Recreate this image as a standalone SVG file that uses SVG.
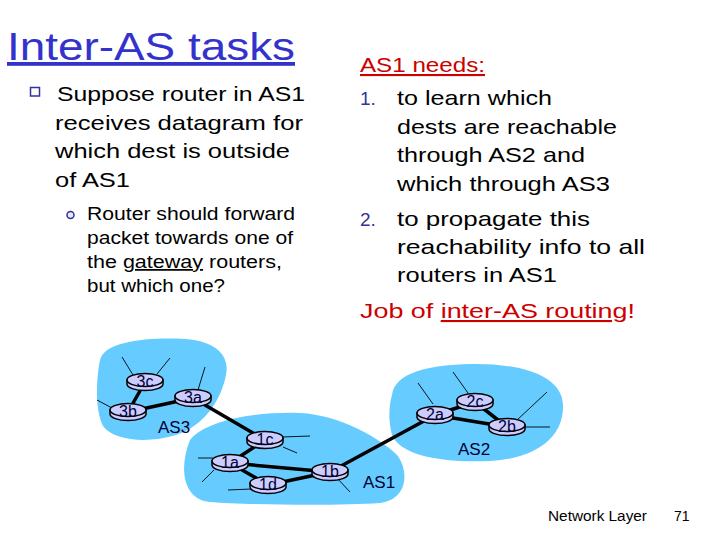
<svg xmlns="http://www.w3.org/2000/svg" xmlns:xlink="http://www.w3.org/1999/xlink" width="720" height="540" viewBox="0 0 720 540">
<style>
.t{font-family:"Liberation Sans",Arial,sans-serif;fill:#000}
.title{font-size:38px;fill:#3333cc;text-decoration:underline}
.b1{font-size:21px}
.b2{font-size:17.5px}
.red{fill:#cc0000}
.num{fill:#333399;font-size:19px}
.as{font-family:"Liberation Sans",Arial,sans-serif;font-size:17px;fill:#000033}
.lbl{font-family:"Liberation Sans",Arial,sans-serif;font-size:16px;fill:#000033;text-anchor:middle}
.blob{fill:#66ccff;stroke:none}
.link{stroke:#000;stroke-width:3.5;stroke-linecap:round;fill:none}
.stub{stroke:#000;stroke-width:0.9;fill:none}
.foot{font-family:"Liberation Sans",Arial,sans-serif;font-size:14px;fill:#000}
</style>
<defs>
<g id="rt">
<path d="M-18,-2 v4 a18,6.5 0 0 0 36,0 v-4 z" fill="#ccccff" stroke="#000" stroke-width="1.5"/>
<ellipse cx="0" cy="-2" rx="18" ry="6.5" fill="#ccccff" stroke="#000" stroke-width="1.5"/>
</g>
</defs>

<!-- text -->
<text class="t title" x="7" y="60" textLength="288" lengthAdjust="spacingAndGlyphs">Inter-AS tasks</text>
<rect x="30.5" y="87.5" width="9" height="8.5" fill="none" stroke="#333399" stroke-width="1.5"/>
<text class="t b1" x="57" y="101" textLength="248" lengthAdjust="spacingAndGlyphs">Suppose router in AS1</text>
<text class="t b1" x="55" y="130" textLength="248" lengthAdjust="spacingAndGlyphs">receives datagram for</text>
<text class="t b1" x="55" y="158" textLength="235" lengthAdjust="spacingAndGlyphs">which dest is outside</text>
<text class="t b1" x="55" y="187" textLength="75" lengthAdjust="spacingAndGlyphs">of AS1</text>
<circle cx="70.5" cy="215" r="3.5" fill="#e8e8ff" stroke="#333399" stroke-width="1.5"/>
<text class="t b2" x="87" y="220" textLength="208" lengthAdjust="spacingAndGlyphs">Router should forward</text>
<text class="t b2" x="87" y="244" textLength="206" lengthAdjust="spacingAndGlyphs">packet towards one of</text>
<text class="t b2" x="87" y="268" textLength="195" lengthAdjust="spacingAndGlyphs">the <tspan text-decoration="underline">gateway</tspan> routers,</text>
<text class="t b2" x="87" y="292" textLength="138" lengthAdjust="spacingAndGlyphs">but which one?</text>

<text class="t b1 red" x="360" y="72" textLength="125" lengthAdjust="spacingAndGlyphs" text-decoration="underline">AS1 needs:</text>
<text class="t num" x="360" y="105">1.</text>
<text class="t b1" x="397" y="105" textLength="155" lengthAdjust="spacingAndGlyphs">to learn which</text>
<text class="t b1" x="397" y="134" textLength="220" lengthAdjust="spacingAndGlyphs">dests are reachable</text>
<text class="t b1" x="397" y="162" textLength="188" lengthAdjust="spacingAndGlyphs">through AS2 and</text>
<text class="t b1" x="397" y="191" textLength="213" lengthAdjust="spacingAndGlyphs">which through AS3</text>
<text class="t num" x="360" y="226">2.</text>
<text class="t b1" x="397" y="226" textLength="193" lengthAdjust="spacingAndGlyphs">to propagate this</text>
<text class="t b1" x="397" y="254" textLength="248" lengthAdjust="spacingAndGlyphs">reachability info to all</text>
<text class="t b1" x="397" y="282" textLength="160" lengthAdjust="spacingAndGlyphs">routers in AS1</text>
<text class="t b1 red" x="360" y="318" textLength="275" lengthAdjust="spacingAndGlyphs">Job of <tspan text-decoration="underline">inter-AS routing</tspan>!</text>

<!-- AS clouds -->
<path class="blob" d="M100,360 C104,341 150,337 185,339 C215,341 230,355 226,375 C221,400 205,425 176,435 C150,443 115,442 103,426 C95,410 96,380 100,360 Z"/>
<path class="blob" d="M190,440 C205,420 260,411 300,413 C340,415 380,438 398,456 C410,474 406,500 380,503 C340,506 250,505 210,502 C184,500 178,470 190,440 Z"/>
<path class="blob" d="M392,395 C395,372 430,365 470,364 C520,363 562,375 563,405 C564,435 540,458 490,461 C440,463 400,455 392,435 C388,420 389,405 392,395 Z"/>
<text class="as" x="158" y="433">AS3</text>
<text class="as" x="363" y="488">AS1</text>
<text class="as" x="458" y="455">AS2</text>

<!-- connectors -->
<g id="connectors">
<line class="stub" x1="133" y1="375" x2="122" y2="357"/>
<line class="stub" x1="157" y1="374" x2="170" y2="358"/>
<line class="stub" x1="112" y1="408" x2="97" y2="400"/>
<line class="stub" x1="198" y1="390" x2="205" y2="367"/>
<line class="stub" x1="282" y1="437" x2="310" y2="436"/>
<line class="stub" x1="283" y1="447" x2="297" y2="453"/>
<line class="stub" x1="213" y1="458" x2="198" y2="458"/>
<line class="stub" x1="214" y1="470" x2="202" y2="482"/>
<line class="stub" x1="251" y1="489" x2="228" y2="490"/>
<line class="stub" x1="337" y1="478" x2="350" y2="492"/>
<line class="stub" x1="433" y1="404" x2="418" y2="383"/>
<line class="stub" x1="468" y1="393" x2="453" y2="372"/>
<line class="stub" x1="516" y1="421" x2="547" y2="392"/>
<line class="stub" x1="524" y1="427" x2="550" y2="427"/>
<line class="link" x1="145" y1="382" x2="128" y2="412"/>
<line class="link" x1="128" y1="412" x2="193" y2="398"/>
<line class="link" x1="193" y1="398" x2="265" y2="440"/>
<line class="link" x1="265" y1="440" x2="230" y2="463"/>
<line class="link" x1="230" y1="463" x2="330" y2="472"/>
<line class="link" x1="230" y1="463" x2="268" y2="485"/>
<line class="link" x1="268" y1="485" x2="330" y2="472"/>
<line class="link" x1="330" y1="472" x2="435" y2="415"/>
<line class="link" x1="435" y1="415" x2="475" y2="402"/>
<line class="link" x1="435" y1="415" x2="507" y2="427"/>
<line class="link" x1="475" y1="402" x2="507" y2="427"/>
</g>

<!-- routers -->
<g id="r3c"><use xlink:href="#rt" x="145" y="382"/><text class="lbl" x="145" y="387">3c</text></g>
<g id="r3b"><use xlink:href="#rt" x="128" y="412"/><text class="lbl" x="128" y="417">3b</text></g>
<g id="r3a"><use xlink:href="#rt" x="193" y="398"/><text class="lbl" x="193" y="403">3a</text></g>
<g id="r1c"><use xlink:href="#rt" x="265" y="440"/><text class="lbl" x="265" y="445">1c</text></g>
<g id="r1a"><use xlink:href="#rt" x="230" y="463"/><text class="lbl" x="230" y="468">1a</text></g>
<g id="r1d"><use xlink:href="#rt" x="268" y="485"/><text class="lbl" x="268" y="490">1d</text></g>
<g id="r1b"><use xlink:href="#rt" x="330" y="472"/><text class="lbl" x="330" y="477">1b</text></g>
<g id="r2a"><use xlink:href="#rt" x="435" y="415"/><text class="lbl" x="435" y="420">2a</text></g>
<g id="r2c"><use xlink:href="#rt" x="475" y="402"/><text class="lbl" x="475" y="407">2c</text></g>
<g id="r2b"><use xlink:href="#rt" x="507" y="427"/><text class="lbl" x="507" y="432">2b</text></g>

<text class="foot" x="548" y="521" textLength="99" lengthAdjust="spacingAndGlyphs">Network Layer</text>
<text class="foot" x="674" y="521">71</text>
</svg>
